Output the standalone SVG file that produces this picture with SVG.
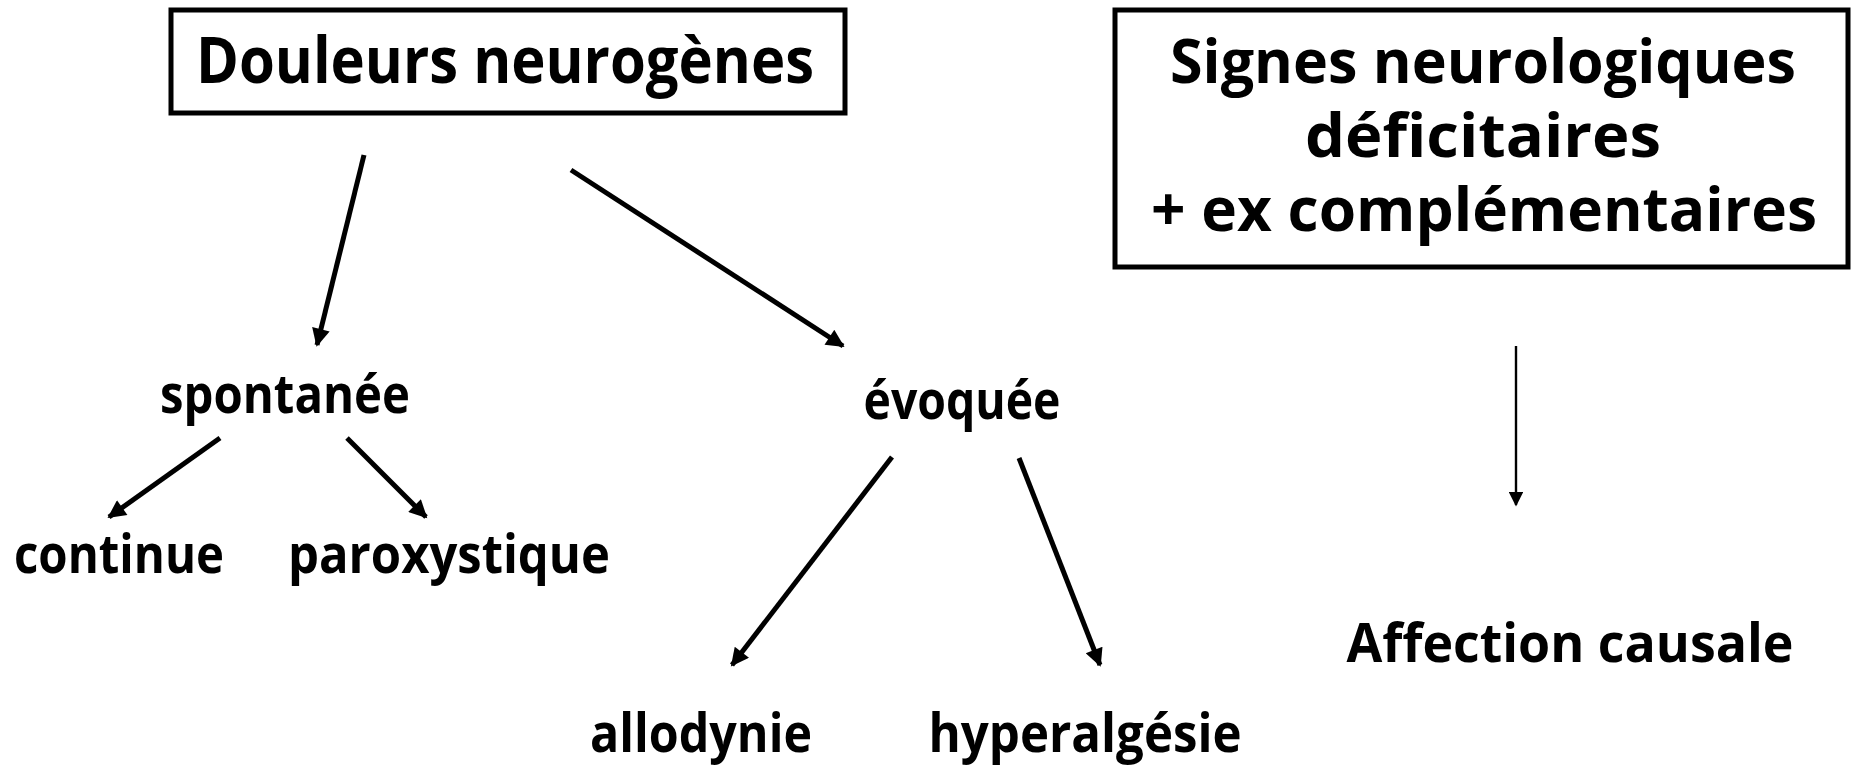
<svg xmlns="http://www.w3.org/2000/svg" width="1851" height="769" viewBox="0 0 1851 769">
  <defs>
    <marker id="head" viewBox="0 0 10 10" refX="9" refY="5" markerWidth="4" markerHeight="3.6" markerUnits="strokeWidth" orient="auto">
      <path d="M0,0 L10,5 L0,10 z" fill="#000"/>
    </marker>
    <marker id="headThin" viewBox="0 0 10 10" refX="9" refY="5" markerWidth="7" markerHeight="6" markerUnits="strokeWidth" orient="auto">
      <path d="M0,0 L10,5 L0,10 z" fill="#000"/>
    </marker>
  </defs>
  <style>
    text { font-family: "Open Sans", "DejaVu Sans", sans-serif; font-weight: bold; fill: #000; }
    .title { font-size: 64px; }
    .stack { font-size: 60px; }
    .label { font-size: 54px; }
    .box { fill: #fff; stroke: #000; stroke-width: 5; }
    .arrow { stroke: #000; stroke-width: 5; fill: none; marker-end: url(#head); }
    .thin { stroke: #000; stroke-width: 2.4; fill: none; marker-end: url(#headThin); }
  </style>
  <rect width="1851" height="769" fill="#fff"/>

  <g id="douleurs">
    <rect class="box" x="171" y="10" width="674" height="103"/>
    <text class="title" x="505" y="83" text-anchor="middle" textLength="618" lengthAdjust="spacingAndGlyphs">Douleurs neurogènes</text>
  </g>

  <g id="signes">
    <rect class="box" x="1115" y="10" width="733" height="257"/>
    <text class="stack" x="1483" y="83" text-anchor="middle" textLength="626" lengthAdjust="spacingAndGlyphs">Signes neurologiques</text>
    <text class="stack" x="1483" y="157" text-anchor="middle" textLength="356" lengthAdjust="spacingAndGlyphs">déficitaires</text>
    <text class="stack" x="1484" y="231" text-anchor="middle" textLength="666" lengthAdjust="spacingAndGlyphs">+ ex complémentaires</text>
  </g>

  <g id="spontanee">
    <text class="label" x="285" y="413" text-anchor="middle" textLength="250" lengthAdjust="spacingAndGlyphs">spontanée</text>
  </g>
  <g id="evoquee">
    <text class="label" x="962" y="419" text-anchor="middle" textLength="197" lengthAdjust="spacingAndGlyphs">évoquée</text>
  </g>
  <g id="continue">
    <text class="label" x="119" y="573" text-anchor="middle" textLength="210" lengthAdjust="spacingAndGlyphs">continue</text>
  </g>
  <g id="paroxystique">
    <text class="label" x="449" y="573" text-anchor="middle" textLength="322" lengthAdjust="spacingAndGlyphs">paroxystique</text>
  </g>
  <g id="allodynie">
    <text class="label" x="701" y="752" text-anchor="middle" textLength="222" lengthAdjust="spacingAndGlyphs">allodynie</text>
  </g>
  <g id="hyperalgesie">
    <text class="label" x="1085" y="752" text-anchor="middle" textLength="313" lengthAdjust="spacingAndGlyphs">hyperalgésie</text>
  </g>
  <g id="affection">
    <text class="label" x="1570" y="662" text-anchor="middle" textLength="447" lengthAdjust="spacingAndGlyphs">Affection causale</text>
  </g>

  <g id="connectors">
    <line class="arrow" x1="364" y1="155" x2="317" y2="345"/>
    <line class="arrow" x1="571" y1="170" x2="843" y2="346"/>
    <line class="arrow" x1="220" y1="438" x2="109" y2="517"/>
    <line class="arrow" x1="347" y1="438" x2="426" y2="517"/>
    <line class="arrow" x1="892" y1="457" x2="732" y2="665"/>
    <line class="arrow" x1="1019" y1="458" x2="1100" y2="665"/>
    <line class="thin" x1="1516" y1="346" x2="1516" y2="505"/>
  </g>
</svg>
